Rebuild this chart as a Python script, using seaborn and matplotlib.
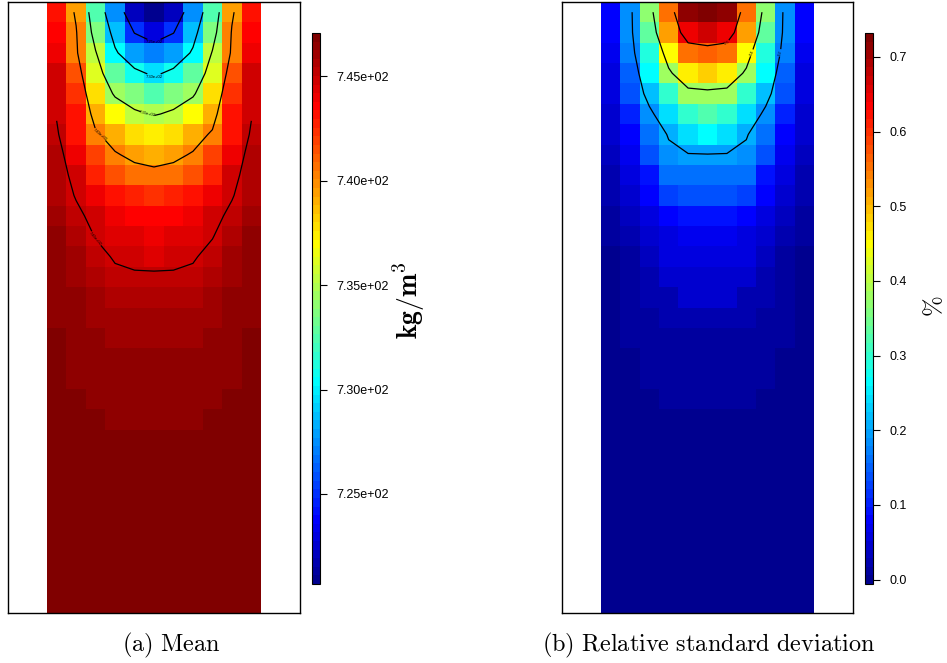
import numpy as np
import pandas as pd
import matplotlib
matplotlib.use("Agg")
import matplotlib.pyplot as plt
import seaborn as sns
from matplotlib.colors import ListedColormap
from matplotlib.ticker import FormatStrFormatter

# mean density (kg/m3), 30 rows (top -> bottom) x 11 columns
mean_rows = [
    [743.1, 739.6, 732.5, 727.3, 722.3, 720.7, 722.3, 727.3, 732.5, 739.6, 743.1],
    [743.6, 740.2, 733.6, 728.9, 724.9, 723.1, 724.9, 728.9, 733.6, 740.2, 743.6],
    [744.1, 740.4, 735.2, 730.4, 727.8, 727.0, 727.8, 730.4, 735.2, 740.4, 744.1],
    [744.6, 741.5, 736.2, 733.0, 730.7, 729.5, 730.7, 733.0, 736.2, 741.5, 744.6],
    [744.9, 742.3, 737.8, 734.6, 733.6, 732.5, 733.6, 734.6, 737.8, 742.3, 744.9],
    [744.9, 743.1, 739.0, 737.0, 735.4, 734.8, 735.4, 737.0, 739.0, 743.1, 744.9],
    [745.2, 743.3, 740.3, 739.0, 738.0, 737.5, 738.0, 739.0, 740.3, 743.3, 745.2],
    [745.5, 744.1, 742.0, 740.2, 739.5, 739.1, 739.5, 740.2, 742.0, 744.1, 745.5],
    [745.6, 744.6, 742.8, 741.3, 740.8, 740.6, 740.8, 741.3, 742.8, 744.6, 745.6],
    [745.8, 744.9, 743.8, 743.1, 742.7, 742.5, 742.7, 743.1, 743.8, 744.9, 745.8],
    [746.1, 745.3, 744.6, 744.1, 743.7, 743.6, 743.7, 744.1, 744.6, 745.3, 746.1],
    [746.3, 745.6, 744.95, 744.5, 744.2, 744.0, 744.2, 744.5, 744.95, 745.6, 746.3],
    [746.4, 745.9, 745.3, 744.9, 744.6, 744.5, 744.6, 744.9, 745.3, 745.9, 746.4],
    [746.4, 746.0, 745.6, 745.2, 745.2, 745.2, 745.2, 745.2, 745.6, 746.0, 746.4],
    [746.4, 746.4, 746.0, 745.6, 745.6, 745.6, 745.6, 745.6, 746.0, 746.4, 746.4],
    [746.4, 746.4, 746.0, 746.0, 746.0, 746.0, 746.0, 746.0, 746.0, 746.4, 746.4],
    [746.8, 746.4, 746.4, 746.0, 746.0, 746.0, 746.0, 746.0, 746.4, 746.4, 746.8],
    [746.8, 746.4, 746.4, 746.4, 746.4, 746.4, 746.4, 746.4, 746.4, 746.4, 746.8],
    [746.8, 746.4, 746.4, 746.4, 746.4, 746.4, 746.4, 746.4, 746.4, 746.4, 746.8],
    [746.8, 746.8, 746.4, 746.4, 746.4, 746.4, 746.4, 746.4, 746.4, 746.8, 746.8],
    [746.8, 746.8, 746.8, 746.4, 746.4, 746.4, 746.4, 746.4, 746.8, 746.8, 746.8],
    [747.0, 746.9, 746.8, 746.8, 746.7, 746.7, 746.7, 746.8, 746.8, 746.9, 747.0],
    [747.0, 746.9, 746.8, 746.8, 746.8, 746.8, 746.8, 746.8, 746.8, 746.9, 747.0],
    [747.0, 746.9, 746.9, 746.8, 746.8, 746.8, 746.8, 746.8, 746.9, 746.9, 747.0],
    [747.0, 747.0, 746.9, 746.9, 746.8, 746.8, 746.8, 746.9, 746.9, 747.0, 747.0],
    [747.0, 747.0, 746.9, 746.9, 746.9, 746.9, 746.9, 746.9, 746.9, 747.0, 747.0],
    [747.0, 747.0, 747.0, 746.9, 746.9, 746.9, 746.9, 746.9, 747.0, 747.0, 747.0],
    [747.0, 747.0, 747.0, 747.0, 746.9, 746.9, 746.9, 747.0, 747.0, 747.0, 747.0],
    [747.0, 747.0, 747.0, 747.0, 747.0, 747.0, 747.0, 747.0, 747.0, 747.0, 747.0],
    [747.0, 747.0, 747.0, 747.0, 747.0, 747.0, 747.0, 747.0, 747.0, 747.0, 747.0],
]

# relative standard deviation (%), same grid
rsd_rows = [
    [0.083, 0.179, 0.363, 0.555, 0.710, 0.732, 0.710, 0.555, 0.363, 0.179, 0.083],
    [0.083, 0.179, 0.333, 0.518, 0.651, 0.673, 0.651, 0.518, 0.333, 0.179, 0.083],
    [0.068, 0.171, 0.289, 0.444, 0.550, 0.560, 0.550, 0.444, 0.289, 0.171, 0.068],
    [0.060, 0.149, 0.260, 0.385, 0.466, 0.488, 0.466, 0.385, 0.260, 0.149, 0.060],
    [0.053, 0.142, 0.223, 0.297, 0.375, 0.380, 0.375, 0.297, 0.223, 0.142, 0.053],
    [0.046, 0.105, 0.186, 0.245, 0.297, 0.319, 0.297, 0.245, 0.186, 0.105, 0.046],
    [0.046, 0.083, 0.156, 0.205, 0.245, 0.260, 0.245, 0.205, 0.156, 0.083, 0.046],
    [0.035, 0.068, 0.142, 0.186, 0.197, 0.198, 0.197, 0.186, 0.142, 0.068, 0.035],
    [0.027, 0.060, 0.097, 0.156, 0.160, 0.160, 0.160, 0.156, 0.097, 0.060, 0.027],
    [0.020, 0.046, 0.083, 0.123, 0.134, 0.134, 0.134, 0.123, 0.083, 0.046, 0.020],
    [0.009, 0.035, 0.060, 0.083, 0.094, 0.094, 0.094, 0.083, 0.060, 0.035, 0.009],
    [0.007, 0.020, 0.046, 0.060, 0.068, 0.068, 0.068, 0.060, 0.046, 0.020, 0.007],
    [0.003, 0.012, 0.031, 0.053, 0.057, 0.057, 0.057, 0.053, 0.031, 0.012, 0.003],
    [0.003, 0.009, 0.024, 0.042, 0.046, 0.046, 0.046, 0.042, 0.024, 0.009, 0.003],
    [0.004, 0.010, 0.022, 0.025, 0.045, 0.046, 0.045, 0.025, 0.022, 0.010, 0.004],
    [0.004, 0.011, 0.013, 0.022, 0.024, 0.025, 0.024, 0.022, 0.013, 0.011, 0.004],
    [0.004, 0.010, 0.012, 0.013, 0.014, 0.014, 0.014, 0.013, 0.012, 0.010, 0.004],
    [0.003, 0.005, 0.009, 0.011, 0.012, 0.012, 0.012, 0.011, 0.009, 0.005, 0.003],
    [0.003, 0.005, 0.009, 0.011, 0.012, 0.012, 0.012, 0.011, 0.009, 0.005, 0.003],
    [0.002, 0.004, 0.005, 0.008, 0.009, 0.009, 0.009, 0.008, 0.005, 0.004, 0.002],
    [0.001, 0.002, 0.003, 0.004, 0.004, 0.004, 0.004, 0.004, 0.003, 0.002, 0.001],
    [0.001, 0.002, 0.003, 0.003, 0.004, 0.004, 0.004, 0.003, 0.003, 0.002, 0.001],
    [0.001, 0.002, 0.002, 0.003, 0.003, 0.003, 0.003, 0.003, 0.002, 0.002, 0.001],
    [0.001, 0.001, 0.002, 0.002, 0.003, 0.003, 0.003, 0.002, 0.002, 0.001, 0.001],
    [0.001, 0.001, 0.002, 0.002, 0.002, 0.002, 0.002, 0.002, 0.002, 0.001, 0.001],
    [0.000, 0.001, 0.001, 0.002, 0.002, 0.002, 0.002, 0.002, 0.001, 0.001, 0.000],
    [0.000, 0.001, 0.001, 0.001, 0.001, 0.001, 0.001, 0.001, 0.001, 0.001, 0.000],
    [0.000, 0.000, 0.001, 0.001, 0.001, 0.001, 0.001, 0.001, 0.001, 0.000, 0.000],
    [0.000, 0.000, 0.000, 0.001, 0.001, 0.001, 0.001, 0.001, 0.000, 0.000, 0.000],
    [0.000, 0.000, 0.000, 0.000, 0.000, 0.000, 0.000, 0.000, 0.000, 0.000, 0.000],
]

mean_levels = [725, 730, 735, 740, 745]
mean_ticks = [725, 730, 735, 740, 745]
rsd_levels = [0.2, 0.4, 0.6]
rsd_ticks = [0.0, 0.1, 0.2, 0.3, 0.4, 0.5, 0.6, 0.7]

plt.rcParams["font.family"] = ["Liberation Sans", "DejaVu Sans"]
plt.rcParams["mathtext.fontset"] = "cm"

# tim.colors(64) / matlab jet palette
k = np.arange(64)
r = np.clip(np.minimum((k - 23) / 16, (71 - k) / 16), 0, 1)
g = np.clip(np.minimum((k - 7) / 16, (55 - k) / 16), 0, 1)
b = np.clip(np.minimum((k + 9) / 16, (39 - k) / 16), 0, 1)
tim = ListedColormap(np.column_stack([r, g, b]))

W, H = 947, 663
fig = plt.figure(figsize=(W / 100, H / 100), dpi=100)


def panel(data, ax_box, cax_box, vmin, vmax, levels, ticks, tickfmt, clfmt):
    ax = fig.add_axes(ax_box)
    cax = fig.add_axes(cax_box)
    df = pd.DataFrame(data)
    sns.heatmap(df, ax=ax, cmap=tim, vmin=vmin, vmax=vmax, cbar_ax=cax,
                xticklabels=False, yticklabels=False)
    z = np.array(data)
    xc = np.arange(z.shape[1]) + 0.5
    yc = np.arange(z.shape[0]) + 0.5
    cs = ax.contour(xc, yc, z, levels=levels, colors="black", linewidths=0.9)
    ax.clabel(cs, fmt=clfmt, fontsize=3, inline=True, inline_spacing=1)
    ax.set_xlim(-2, z.shape[1] + 2)
    ax.set_ylim(z.shape[0], 0)
    for s in ax.spines.values():
        s.set_visible(True)
        s.set_linewidth(1.0)
        s.set_color("black")
    cb = ax.collections[0].colorbar
    cb.set_ticks(ticks)
    cb.ax.yaxis.set_major_formatter(FormatStrFormatter(tickfmt))
    cb.ax.tick_params(length=5, width=0.8, labelsize=9, pad=7)
    cb.outline.set_visible(True)
    cb.outline.set_linewidth(0.8)
    return ax


panel(mean_rows, [8 / W, 50 / H, 292 / W, 611 / H], [312 / W, 79 / H, 8 / W, 551 / H],
      720.69, 747.07, mean_levels, mean_ticks, "%.2e", "%.2e")
panel(rsd_rows, [562 / W, 50 / H, 291 / W, 611 / H], [865 / W, 79 / H, 8 / W, 551 / H],
      -0.006, 0.732, rsd_levels, rsd_ticks, "%.1f", "%.1f")

fig.text(409 / W, 1 - 300 / H, r"$\mathbf{kg/m^3}$", rotation=90, fontsize=20,
         ha="center", va="center")
fig.text(934 / W, 1 - 306 / H, r"$\%$", rotation=90, fontsize=18,
         ha="center", va="center")
fig.text(171 / W, 18 / H, r"$\mathrm{(a)\ Mean}$", fontsize=17.5,
         ha="center", va="center")
fig.text(709 / W, 18 / H, r"$\mathrm{(b)\ Relative\ standard\ deviation}$", fontsize=17.5,
         ha="center", va="center")

fig.savefig("out.png", dpi=100)
